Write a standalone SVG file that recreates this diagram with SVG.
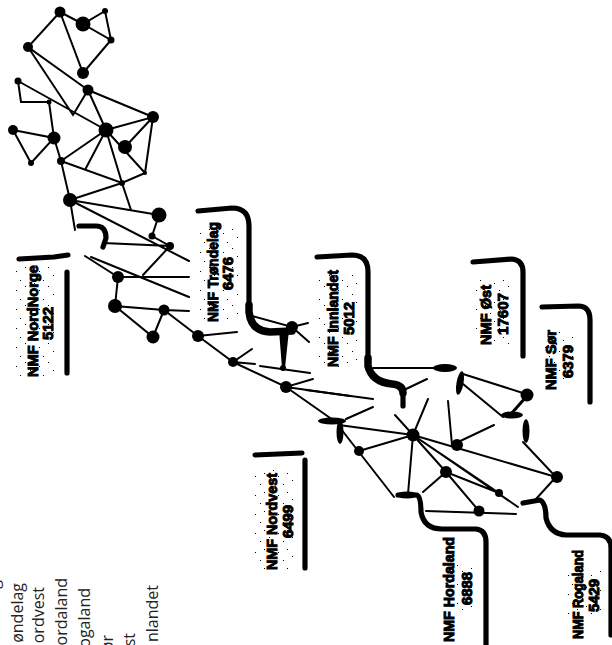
<svg xmlns="http://www.w3.org/2000/svg" width="612" height="645" viewBox="0 0 612 645">
<style>
.e{stroke:#000;stroke-width:2;fill:none;stroke-linecap:round}
.t{stroke:#000;stroke-width:3;fill:none;stroke-linecap:round}
.b{stroke:#000;stroke-width:5.2;fill:none;stroke-linecap:round;stroke-linejoin:round}
.w{stroke:#000;stroke-width:7.5;fill:none;stroke-linecap:round;stroke-linejoin:round}
.f{fill:#000}
.s{fill:url(#speck)}
.l{font-family:"Liberation Sans",Arial,sans-serif;font-weight:bold;font-size:15px;fill:#000;stroke:#000;stroke-width:1}
.k{font-family:"Open Sans","Liberation Sans",sans-serif;font-size:16px;fill:#222;text-anchor:end}
</style>
<defs>
<pattern id="speck" width="23" height="19" patternUnits="userSpaceOnUse">
<rect x="2" y="1" width="1" height="1"/><rect x="16" y="5" width="1" height="1"/><rect x="7" y="9" width="1" height="1"/><rect x="20" y="14" width="1" height="1"/><rect x="11" y="17" width="1" height="1"/>
</pattern>
</defs>
<rect width="612" height="645" fill="#fff"/>
<g id="speckle">
<rect class="s" x="15" y="265" width="42" height="112"/>
<rect class="s" x="199" y="225" width="40" height="95"/>
<rect class="s" x="318" y="270" width="40" height="97"/>
<rect class="s" x="472" y="280" width="40" height="66"/>
<rect class="s" x="544" y="332" width="32" height="50"/>
<rect class="s" x="254" y="470" width="42" height="100"/>
<rect class="s" x="456" y="565" width="20" height="50"/>
<rect class="s" x="565" y="570" width="38" height="50"/>
</g>
<g id="connectors">
<path class="e" d="M60 12L83 24L105 11L111 40L83 24M60 12L28 47L88 90M60 12L83 73L111 40M28 47L73 115L88 90M18 81L106 130M18 81L21 102L49 102L54 138M13 130L54 138L31 163L13 130M54 138L61 161L70 200M88 90L106 130M88 90L153 117M106 130L153 117L145 173M106 130L145 173M153 117L125 147M61 161L106 130M86 168L106 130M106 130L122 183L131 210M61 161L122 183L145 173M122 183L70 200L159 215M159 215L152 236L170 246M70 200L189 261M70 200L75 230M103 243L170 246L143 275M85 256L118 277M91 257L189 297M118 277L189 277M118 277L115 306L164 310L189 311M115 306L153 337L164 310M164 310L198 336L237 332M198 336L233 362L252 349M233 362L255 364M260 366L310 373M233 362L286 387L313 379M286 387L350 396M286 387L333 420M252 316L292 327L308 323M292 327L309 342"/>
<path class="e" d="M306 390L373 399M346 419L373 407M339 425L413 435M341 429L394 497M359 451L413 435M395 415L413 435L428 399M413 435L408 494M413 435L446 472M413 435L499 493M413 435L518 507M413 435L556 477M448 401L452 445L494 425M423 492L446 472L479 511M446 472L499 493M426 511L516 514M373 368L434 368M463 374L526 394M463 384L503 417M406 389L427 379M523 442L556 477L536 499"/>
<path class="t" d="M526 397L511 414"/>
</g>
<g id="brackets">
<path class="b" d="M79 226H96Q106 226 106 238L103 247"/>
<path class="b" d="M19 259L54 257L68 255M67 272V373"/>
<path class="b" d="M255 455L302 453M305 460V568"/>
<path class="b" d="M198 211L232 208Q249 208 249 226V305"/>
<path class="w" d="M249 305V312Q251 331 270 332L292 331"/>
<path class="b" d="M317 257L352 255Q368 255 368 272V358"/>
<path class="w" d="M368 358V366Q372 382 392 384Q403 385 403 393"/>
<path class="b" d="M403 393V406"/>
<path class="b" d="M473 262L512 259Q523 260 523 272V356"/>
<path class="b" d="M542 307L578 306Q590 306 590 320V402"/>
<path class="b" d="M398 495H417Q421 497 421 512Q424 529 442 529H476Q486 530 486 542V645"/>
<path class="b" d="M523 503L540 500Q546 503 546 518Q550 534 566 535H600Q611 536 611 548V635"/>
</g>
<g id="blobs">
<ellipse class="f" cx="445" cy="368" rx="12" ry="4"/>
<ellipse class="f" cx="460" cy="383" rx="3.5" ry="12" transform="rotate(10 460 383)"/>
<ellipse class="f" cx="512" cy="415" rx="11" ry="3.5"/>
<ellipse class="f" cx="526" cy="431" rx="3.5" ry="12"/>
<ellipse class="f" cx="332" cy="421" rx="14" ry="3.5"/>
<ellipse class="f" cx="340" cy="432" rx="3.5" ry="12"/>
<ellipse class="f" cx="407" cy="495" rx="11" ry="3.5"/>
<path class="f" d="M279 330H289L285 368H282Z"/>
</g>
<g id="nodes">
<circle id="n1" cx="60" cy="12" r="5.5"/>
<circle id="n2" cx="83" cy="24" r="7.5"/>
<circle id="n3" cx="105" cy="11" r="3"/>
<circle id="n4" cx="111" cy="40" r="3.5"/>
<circle id="n5" cx="28" cy="47" r="5"/>
<circle id="n6" cx="83" cy="73" r="6"/>
<circle id="n7" cx="88" cy="90" r="5.5"/>
<circle id="n8" cx="153" cy="117" r="6"/>
<circle id="n9" cx="18" cy="81" r="3.5"/>
<circle id="n10" cx="49" cy="102" r="2.5"/>
<circle id="n11" cx="106" cy="130" r="7.5"/>
<circle id="n12" cx="13" cy="130" r="5"/>
<circle id="n13" cx="54" cy="138" r="6.5"/>
<circle id="n14" cx="125" cy="147" r="7"/>
<circle id="n15" cx="31" cy="163" r="3"/>
<circle id="n16" cx="61" cy="161" r="4"/>
<circle id="n17" cx="145" cy="173" r="2"/>
<circle id="n18" cx="122" cy="183" r="3"/>
<circle id="n19" cx="70" cy="200" r="7"/>
<circle id="n20" cx="159" cy="215" r="7.5"/>
<circle id="n21" cx="152" cy="236" r="3.5"/>
<circle id="n22" cx="170" cy="246" r="4"/>
<circle id="n23" cx="118" cy="277" r="6"/>
<circle id="n24" cx="115" cy="306" r="7"/>
<circle id="n25" cx="164" cy="310" r="5.5"/>
<circle id="n26" cx="153" cy="337" r="6.5"/>
<circle id="n27" cx="198" cy="336" r="6"/>
<circle id="n28" cx="233" cy="362" r="5"/>
<circle id="n29" cx="283" cy="368" r="3"/>
<circle id="n30" cx="286" cy="387" r="6"/>
<circle id="n31" cx="292" cy="327" r="6"/>
<circle id="n32" cx="413" cy="435" r="6.5"/>
<circle id="n33" cx="359" cy="451" r="5"/>
<circle id="n34" cx="446" cy="472" r="6"/>
<circle id="n35" cx="457" cy="445" r="6"/>
<circle id="n36" cx="499" cy="493" r="4"/>
<circle id="n37" cx="479" cy="511" r="5.5"/>
<circle id="n38" cx="527" cy="395" r="6.5"/>
<circle id="n39" cx="557" cy="477" r="6"/>
</g>
<g id="labels">
<g id="nordnorge"><text class="l" textLength="112" lengthAdjust="spacingAndGlyphs" transform="translate(38 377) rotate(-90)">NMF NordNorge</text><text class="l" textLength="33" lengthAdjust="spacingAndGlyphs" transform="translate(53 340) rotate(-90)">5122</text></g>
<g id="trondelag"><text class="l" textLength="100" lengthAdjust="spacingAndGlyphs" transform="translate(218 322) rotate(-90)">NMF Trøndelag</text><text class="l" textLength="33" lengthAdjust="spacingAndGlyphs" transform="translate(233 290) rotate(-90)">6476</text></g>
<g id="innlandet"><text class="l" textLength="97" lengthAdjust="spacingAndGlyphs" transform="translate(338 367) rotate(-90)">NMF Innlandet</text><text class="l" textLength="33" lengthAdjust="spacingAndGlyphs" transform="translate(354 335) rotate(-90)">5012</text></g>
<g id="ost"><text class="l" textLength="60" lengthAdjust="spacingAndGlyphs" transform="translate(491 345) rotate(-90)">NMF Øst</text><text class="l" textLength="42" lengthAdjust="spacingAndGlyphs" transform="translate(508 335) rotate(-90)">17607</text></g>
<g id="sor"><text class="l" textLength="60" lengthAdjust="spacingAndGlyphs" transform="translate(556 390) rotate(-90)">NMF Sør</text><text class="l" textLength="33" lengthAdjust="spacingAndGlyphs" transform="translate(573 378) rotate(-90)">6379</text></g>
<g id="nordvest"><text class="l" textLength="97" lengthAdjust="spacingAndGlyphs" transform="translate(277 570) rotate(-90)">NMF Nordvest</text><text class="l" textLength="33" lengthAdjust="spacingAndGlyphs" transform="translate(293 538) rotate(-90)">6499</text></g>
<g id="hordaland"><text class="l" textLength="105" lengthAdjust="spacingAndGlyphs" transform="translate(454 642) rotate(-90)">NMF Hordaland</text><text class="l" textLength="33" lengthAdjust="spacingAndGlyphs" transform="translate(472 605) rotate(-90)">6888</text></g>
<g id="rogaland"><text class="l" textLength="89" lengthAdjust="spacingAndGlyphs" transform="translate(583 639) rotate(-90)">NMF Rogaland</text><text class="l" textLength="33" lengthAdjust="spacingAndGlyphs" transform="translate(599 612) rotate(-90)">5429</text></g>
</g>
<g id="legend">
<text class="k" transform="translate(-1 580) rotate(-90)">g</text>
<text class="k" transform="translate(23 583) rotate(-90)">øndelag</text>
<text class="k" transform="translate(44 587) rotate(-90)">ordvest</text>
<text class="k" transform="translate(67 578) rotate(-90)">ordaland</text>
<text class="k" transform="translate(90 588) rotate(-90)">ogaland</text>
<text class="k" transform="translate(113 635) rotate(-90)">ør</text>
<text class="k" transform="translate(135 633) rotate(-90)">st</text>
<text class="k" transform="translate(158 585) rotate(-90)">nlandet</text>
</g>
</svg>
